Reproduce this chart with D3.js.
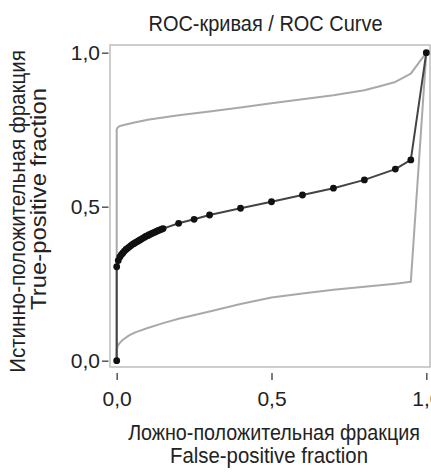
<!DOCTYPE html>
<html>
<head>
<meta charset="utf-8">
<script src="https://cdn.jsdelivr.net/npm/d3@7"></script>
<style>
  body { margin: 0; background: #fff; }
  svg { font-family: "Liberation Sans", Arial, sans-serif; }
</style>
</head>
<body>
<script>
// ROC curve points (false-positive fraction, true-positive fraction)
const rocFpf = [0, 0, 0.005, 0.01, 0.015, 0.02, 0.025, 0.03, 0.035, 0.04, 0.045, 0.05,
  0.055, 0.06, 0.065, 0.07, 0.075, 0.08, 0.085, 0.09, 0.095, 0.1, 0.105, 0.11, 0.115,
  0.12, 0.125, 0.13, 0.135, 0.14, 0.145, 0.15,
  0.2, 0.25, 0.3, 0.4, 0.5, 0.6, 0.7, 0.8, 0.9, 0.95, 1]
const rocTpf = [0, 0.305, 0.325, 0.337, 0.344, 0.35, 0.356, 0.361, 0.365, 0.369, 0.373, 0.377,
  0.38, 0.383, 0.386, 0.389, 0.392, 0.395, 0.398, 0.401, 0.404, 0.406, 0.409, 0.411, 0.414,
  0.416, 0.418, 0.421, 0.423, 0.425, 0.427, 0.429,
  0.446, 0.459, 0.473, 0.495, 0.516, 0.538, 0.56, 0.587, 0.622, 0.652, 1]

// upper confidence band
const upperFpf = [0, 0, 0.003, 0.01, 0.05, 0.1, 0.2, 0.3, 0.4, 0.5, 0.6, 0.7, 0.8, 0.85, 0.9, 0.95, 1]
const upperTpf = [0, 0.75, 0.757, 0.762, 0.772, 0.782, 0.797, 0.809, 0.822, 0.836, 0.849, 0.862, 0.878, 0.891, 0.905, 0.932, 1]

// lower confidence band
const lowerFpf = [0, 0, 0.003, 0.01, 0.02, 0.04, 0.06, 0.1, 0.15, 0.2, 0.3, 0.4, 0.5, 0.6, 0.7, 0.8, 0.9, 0.95, 1]
const lowerTpf = [0, 0.035, 0.048, 0.058, 0.068, 0.082, 0.092, 0.106, 0.122, 0.136, 0.16, 0.184, 0.205, 0.218, 0.23, 0.24, 0.25, 0.256, 1]

const tickValues = [0, 0.5, 1]
const tickLabels = ['0,0', '0,5', '1,0']

const width = 431, height = 472

const svg = d3.select('body').append('svg')
  .attr('width', width)
  .attr('height', height)

const xScale = d3.scaleLinear().domain([0, 1]).range([116.7, 426.3])
const yScale = d3.scaleLinear().domain([0, 1]).range([360.7, 52.7])

// frame around the plot area
svg.append('rect')
  .attr('x', 110).attr('y', 45)
  .attr('width', 320).attr('height', 322)
  .attr('fill', 'none')
  .attr('stroke', '#bdbdbd')
  .attr('stroke-width', 1.5)

const fmt = (d) => tickLabels[tickValues.indexOf(d)]

const xAxis = d3.axisBottom(xScale).tickValues(tickValues).tickFormat(fmt)
  .tickSize(7).tickPadding(11)
const yAxis = d3.axisLeft(yScale).tickValues(tickValues).tickFormat(fmt)
  .tickSize(6.5).tickPadding(2)

const gx = svg.append('g').attr('transform', 'translate(0,373)').call(xAxis)
const gy = svg.append('g').attr('transform', 'translate(108.5,0)').call(yAxis)

;[gx, gy].forEach((g) => {
  g.select('.domain').remove()
  g.selectAll('line').attr('stroke', '#555').attr('stroke-width', 1.5)
  g.selectAll('text').attr('font-size', 21).attr('fill', '#222')
    .style('font-family', '"Liberation Sans", Arial, sans-serif')
})

const line = d3.line()
  .x((d) => xScale(d[0]))
  .y((d) => yScale(d[1]))

const zip = (a, b) => a.map((v, i) => [v, b[i]])

const upper = zip(upperFpf, upperTpf)
const lower = zip(lowerFpf, lowerTpf)
const roc = zip(rocFpf, rocTpf)

// confidence bands
svg.selectAll('.band')
  .data([upper, lower])
  .join('path')
  .attr('class', 'band')
  .attr('d', line)
  .attr('fill', 'none')
  .attr('stroke', '#a9a9a9')
  .attr('stroke-width', 2)
  .attr('stroke-linejoin', 'round')

// ROC curve
svg.append('path')
  .datum(roc)
  .attr('d', line)
  .attr('fill', 'none')
  .attr('stroke', '#444')
  .attr('stroke-width', 2)

svg.selectAll('.pt')
  .data(roc)
  .join('circle')
  .attr('class', 'pt')
  .attr('cx', (d) => xScale(d[0]))
  .attr('cy', (d) => yScale(d[1]))
  .attr('r', 3.4)
  .attr('fill', '#111')

// title and axis labels, condensed horizontally to the widths in the figure
function label(x, y, rot, len, txt) {
  const t = svg.append('text')
    .attr('text-anchor', 'middle')
    .attr('font-size', 22).attr('fill', '#222')
    .text(txt)
  const k = len / t.node().getComputedTextLength()
  t.attr('transform', `translate(${x},${y})` + (rot ? ' rotate(-90)' : '') + ` scale(${k},1)`)
}

label(265.5, 30.5, false, 234, 'ROC-кривая / ROC Curve')
label(274, 440, false, 292, 'Ложно-положительная фракция')
label(269, 463, false, 198, 'False-positive fraction')
label(25, 211.5, true, 323, 'Истинно-положительная фракция')
label(46, 199, true, 222, 'True-positive fraction')
</script>
</body>
</html>
